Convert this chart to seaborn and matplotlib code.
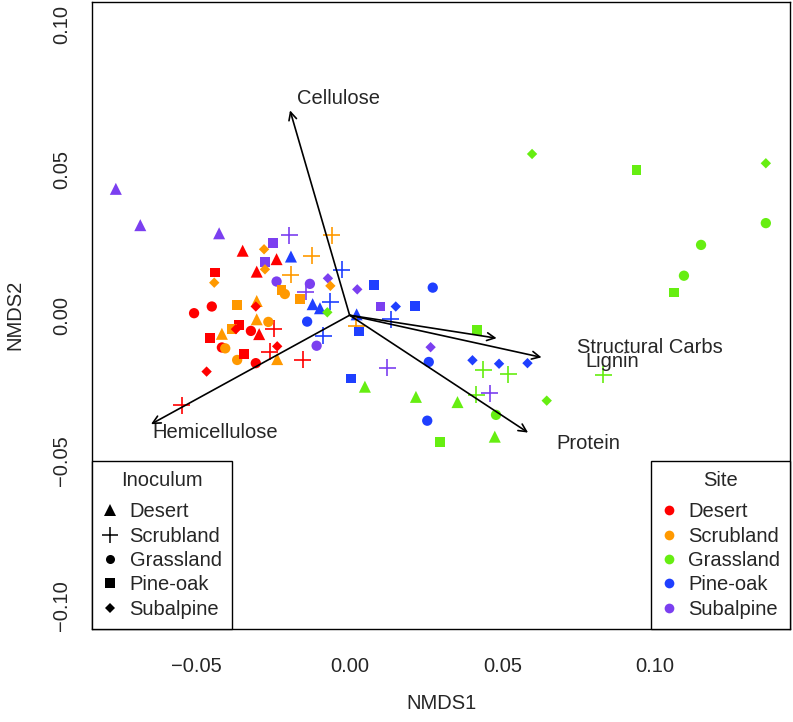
import matplotlib
matplotlib.use("Agg")
import matplotlib.pyplot as plt
from matplotlib.lines import Line2D
import pandas as pd
import seaborn as sns

# site colours
site_names = ["Desert", "Scrubland", "Grassland", "Pine-oak", "Subalpine"]
site_colors = ["#FF0000", "#FF9900", "#66EE11", "#1F3FFF", "#7B3FF0"]

# inoculum = Desert (triangles)
tri_site = ["Subalpine", "Subalpine", "Subalpine", "Desert", "Desert", "Pine-oak", "Desert",
            "Pine-oak", "Pine-oak", "Scrubland", "Pine-oak", "Scrubland", "Scrubland", "Desert",
            "Scrubland", "Grassland", "Grassland", "Grassland", "Grassland"]
tri_x = [-0.0765, -0.0685, -0.0427, -0.0350, -0.0239, -0.0192, -0.0304, -0.0121, -0.0097, -0.0304,
         0.0023, -0.0304, -0.0418, -0.0296, -0.0237, 0.0050, 0.0217, 0.0353, 0.0475]
tri_y = [0.0435, 0.031, 0.0282, 0.0222, 0.0193, 0.0202, 0.0150, 0.0038, 0.0024, 0.0049,
         0.0003, -0.0014, -0.0064, -0.0065, -0.0151, -0.0246, -0.0281, -0.0299, -0.0418]

# inoculum = Scrubland (plus)
plus_site = ["Subalpine", "Scrubland", "Scrubland", "Pine-oak", "Scrubland", "Subalpine", "Pine-oak",
             "Scrubland", "Desert", "Pine-oak", "Desert", "Desert", "Desert", "Pine-oak", "Subalpine",
             "Grassland", "Grassland", "Subalpine", "Grassland", "Grassland"]
plus_x = [-0.0198, -0.0059, -0.0124, -0.0026, -0.0192, -0.0143, -0.0064, 0.0021, -0.0248, -0.0086,
          -0.0261, -0.0153, -0.055, 0.0134, 0.0123, 0.0437, 0.0519, 0.0458, 0.0414, 0.0830]
plus_y = [0.0276, 0.0276, 0.0204, 0.0156, 0.0139, 0.0081, 0.0047, -0.0037, -0.0046, -0.0071,
          -0.0125, -0.0154, -0.031, -0.0014, -0.0180, -0.0188, -0.0204, -0.0268, -0.0273, -0.0205]

# inoculum = Grassland (circles)
circ_site = ["Subalpine", "Subalpine", "Scrubland", "Desert", "Desert", "Pine-oak", "Scrubland",
             "Desert", "Subalpine", "Desert", "Scrubland", "Scrubland", "Desert", "Pine-oak",
             "Pine-oak", "Grassland", "Pine-oak", "Grassland", "Grassland", "Grassland"]
circ_x = [-0.0239, -0.0130, -0.0212, -0.0509, -0.0451, -0.0139, -0.0266, -0.0323, -0.0108, -0.0418,
          -0.0407, -0.0368, -0.0307, 0.0272, 0.0259, 0.0479, 0.0254, 0.1362, 0.1150, 0.1094]
circ_y = [0.0116, 0.0108, 0.0073, 0.0007, 0.0030, -0.0022, -0.0023, -0.0054, -0.0105, -0.0111,
          -0.0114, -0.0154, -0.0165, 0.0095, -0.0161, -0.0343, -0.0363, 0.0317, 0.0242, 0.0136]

# inoculum = Pine-oak (squares)
sq_site = ["Subalpine", "Subalpine", "Desert", "Scrubland", "Scrubland", "Pine-oak", "Scrubland",
           "Pine-oak", "Desert", "Scrubland", "Desert", "Desert", "Pine-oak", "Subalpine",
           "Pine-oak", "Grassland", "Grassland", "Grassland", "Grassland"]
sq_x = [-0.0250, -0.0277, -0.0441, -0.0223, -0.0163, 0.0080, -0.0368, 0.0030, -0.0363, -0.0384,
        -0.0456, -0.0346, 0.0004, 0.0101, 0.0213, 0.0418, 0.0295, 0.0939, 0.1062]
sq_y = [0.0248, 0.0184, 0.0147, 0.0087, 0.0055, 0.0104, 0.0035, -0.0056, -0.0034, -0.0048,
        -0.0079, -0.0134, -0.0218, 0.0030, 0.0031, -0.0052, -0.0435, 0.0500, 0.0078]

# inoculum = Subalpine (diamonds)
dia_site = ["Scrubland", "Scrubland", "Scrubland", "Subalpine", "Scrubland", "Subalpine", "Grassland",
            "Desert", "Desert", "Desert", "Desert", "Pine-oak", "Subalpine", "Pine-oak", "Pine-oak",
            "Pine-oak", "Grassland", "Grassland", "Grassland"]
dia_x = [-0.0280, -0.0277, -0.0443, -0.0071, -0.0063, 0.0025, -0.0073, -0.0307, -0.0372, -0.0237,
         -0.0468, 0.0151, 0.0265, 0.0402, 0.0489, 0.0582, 0.0645, 0.0597, 0.1362]
dia_y = [0.0227, 0.0158, 0.0112, 0.0127, 0.0101, 0.0089, 0.0010, 0.0030, -0.0048, -0.0107,
         -0.0194, 0.0030, -0.0110, -0.0155, -0.0167, -0.0165, -0.0294, 0.0555, 0.0523]

# fitted vectors
vec_names = ["Cellulose", "Hemicellulose", "Protein", "Structural Carbs", "Lignin"]
vec_x = [-0.0195, -0.065, 0.0584, 0.0628, 0.0481]
vec_y = [0.0705, -0.0375, -0.0404, -0.0145, -0.0079]
lab_x = [-0.0035, -0.044, 0.0781, 0.0983, 0.0859]
lab_y = [0.0745, -0.0402, -0.0440, -0.0112, -0.0160]

sns.set_style("white")
plt.rcParams["font.family"] = ["Liberation Sans", "DejaVu Sans"]
fs = 14.5

palette = dict(zip(site_names, site_colors))

fig = plt.figure(figsize=(7.93, 7.22), dpi=100)
ax = fig.add_axes([0.1164, 0.1288, 0.8798, 0.8688])

groups = [
    (tri_site, tri_x, tri_y, "^", 75),
    (plus_site, plus_x, plus_y, "+", 150),
    (circ_site, circ_x, circ_y, "o", 55),
    (sq_site, sq_x, sq_y, "s", 50),
    (dia_site, dia_x, dia_y, "D", 28),
]
for s, x, y, m, size in groups:
    df = pd.DataFrame({"NMDS1": x, "NMDS2": y, "site": s})
    lw = 1.2 if m == "+" else 0
    sns.scatterplot(data=df, x="NMDS1", y="NMDS2", hue="site", palette=palette,
                    marker=m, s=size, linewidth=lw, legend=False, ax=ax)

for name, vx, vy, lx, ly in zip(vec_names, vec_x, vec_y, lab_x, lab_y):
    ax.annotate("", xy=(vx, vy), xytext=(0, 0),
                arrowprops=dict(arrowstyle="->", lw=1.2, color="black",
                                shrinkA=0, shrinkB=0, mutation_scale=14))
    ax.text(lx, ly, name, ha="center", va="center", fontsize=fs)

ax.set_xlim(-0.0842, 0.1441)
ax.set_ylim(-0.108, 0.1079)
ax.set_xticks([-0.05, 0.0, 0.05, 0.10])
ax.set_xticklabels(["\u22120.05", "0.00", "0.05", "0.10"])
ax.set_yticks([-0.10, -0.05, 0.0, 0.05, 0.10])
ax.set_yticklabels(["\u22120.10", "\u22120.05", "0.00", "0.05", "0.10"], rotation=90, va="center")
ax.tick_params(direction="out", length=8.3, width=0.8, color="black", labelsize=fs)
ax.tick_params(axis="x", pad=12)
ax.tick_params(axis="y", pad=7)
ax.set_xlabel("NMDS1", fontsize=fs, labelpad=13)
ax.set_ylabel("NMDS2", fontsize=fs, labelpad=20)
for sp in ax.spines.values():
    sp.set_color("black")
    sp.set_linewidth(1.0)

leg_kw = dict(fontsize=fs, title_fontsize=fs, frameon=True, fancybox=False, framealpha=1,
              edgecolor="black", borderaxespad=0, borderpad=0.5, handlelength=0.8,
              handletextpad=0.55, labelspacing=0.27)

inoc_handles = [Line2D([], [], marker=m, linestyle="none", color="black",
                       markersize=ms, markeredgewidth=mew)
                for m, ms, mew in [("^", 8, 0), ("+", 11, 1.1), ("o", 6.5, 0), ("s", 6.5, 0), ("D", 4.8, 0)]]
leg1 = ax.legend(inoc_handles, site_names, title="Inoculum", loc="lower left", **leg_kw)
leg1.get_frame().set_linewidth(1.0)
leg1._legend_box.sep = 9
ax.add_artist(leg1)

site_handles = [Line2D([], [], marker="o", linestyle="none", color=c, markersize=7,
                       markeredgewidth=0) for c in site_colors]
leg2 = ax.legend(site_handles, site_names, title="Site", loc="lower right", **leg_kw)
leg2.get_frame().set_linewidth(1.0)
leg2._legend_box.sep = 9

fig.savefig("out.png", dpi=100)
